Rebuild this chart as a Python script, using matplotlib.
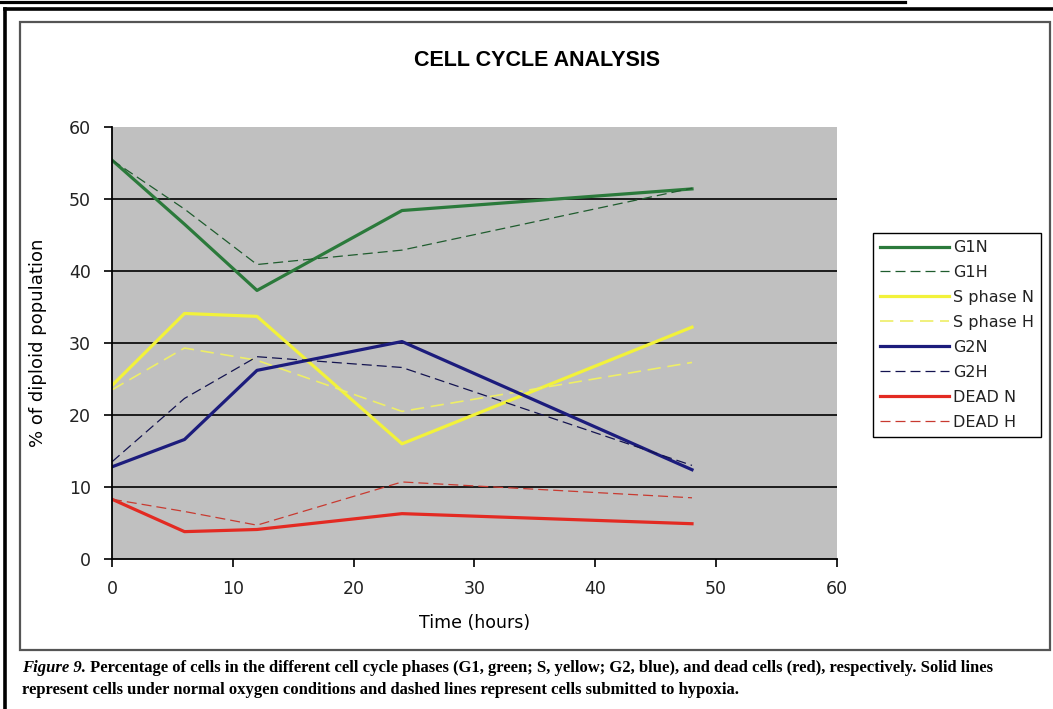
import matplotlib
matplotlib.use("Agg")
import matplotlib.pyplot as plt
from matplotlib.lines import Line2D
from matplotlib.patches import Rectangle

# time points (hours)
hours = [0, 6, 12, 24, 48]

g1_n = [55.4, 46.5, 37.3, 48.4, 51.4]
g1_h = [55.4, 48.6, 40.9, 42.9, 51.5]
s_n = [24.1, 34.1, 33.7, 16.0, 32.2]
s_h = [23.5, 29.3, 27.6, 20.5, 27.3]
g2_n = [12.8, 16.6, 26.2, 30.2, 12.4]
g2_h = [13.5, 22.3, 28.1, 26.6, 13.0]
dead_n = [8.3, 3.8, 4.1, 6.3, 4.9]
dead_h = [8.3, 6.6, 4.7, 10.7, 8.5]

labels = ["G1N", "G1H", "S phase N", "S phase H", "G2N", "G2H", "DEAD N", "DEAD H"]
grid_vals = [10, 20, 30, 40, 50]

W, H = 1053, 709
fig = plt.figure(figsize=(W / 100, H / 100), dpi=100)
fig.patch.set_facecolor("white")

def fx(px):
    return px / W

def fy(py):
    return 1 - py / H

# page decorations: top rule, outer frame and chart frame
fig.add_artist(Line2D([0, fx(905)], [fy(1.5), fy(1.5)], color="black", lw=2.3))
fig.add_artist(Line2D([fx(5), fx(5)], [fy(9), 0], color="black", lw=2.6))
fig.add_artist(Line2D([fx(5), 1], [fy(9), fy(9)], color="black", lw=2.6))
fig.add_artist(Rectangle((fx(19.5), fy(650)), fx(1050) - fx(19.5), fy(22) - fy(650),
                         transform=fig.transFigure, fill=False, edgecolor="#555555", lw=1.6))

ax = fig.add_axes([fx(112), fy(559), fx(837) - fx(112), fy(127) - fy(559)])
ax.set_facecolor("#c0c0c0")

green = "#2b7a3b"
yellow = "#f2f23a"
navy = "#1c1c7c"
red = "#e32a22"

solid_w = 2.3
dash_w = 0.9
dash = (0, (8, 4))

for g in grid_vals:
    ax.axhline(g, color="black", lw=1.2, zorder=1)

ax.plot(hours, g1_n, color=green, lw=solid_w, label=labels[0])
ax.plot(hours, g1_h, color="#1f5c2e", lw=dash_w, linestyle=dash, label=labels[1])
ax.plot(hours, s_n, color=yellow, lw=solid_w, label=labels[2])
ax.plot(hours, s_h, color="#eeee66", lw=dash_w + 0.3, linestyle=dash, label=labels[3])
ax.plot(hours, g2_n, color=navy, lw=solid_w, label=labels[4])
ax.plot(hours, g2_h, color="#141450", lw=dash_w, linestyle=dash, label=labels[5])
ax.plot(hours, dead_n, color=red, lw=solid_w, label=labels[6])
ax.plot(hours, dead_h, color="#c83a30", lw=dash_w, linestyle=dash, label=labels[7])

ax.set_xlim(0, 60)
ax.set_ylim(0, 60)
ax.set_xticks(range(0, 61, 10))
ax.set_yticks(range(0, 61, 10))
for s in ["top", "right"]:
    ax.spines[s].set_visible(False)
ax.spines["left"].set_linewidth(1.3)
ax.spines["bottom"].set_linewidth(1.3)
ax.tick_params(direction="out", length=6, width=1.2, labelsize=12.5, pad=9,
               colors="black", labelcolor="#222222")

ax.set_xlabel("Time (hours)", fontsize=12.5, labelpad=12)
ax.set_ylabel("% of diploid population", fontsize=13, labelpad=16)

fig.text(fx(537), fy(61), "CELL CYCLE ANALYSIS", ha="center", va="center",
         fontsize=15.5, fontweight="bold", family="Liberation Sans")

leg = ax.legend(loc="upper left", bbox_to_anchor=(fx(873), fy(233)),
                bbox_transform=fig.transFigure, fontsize=11.5, frameon=True,
                fancybox=False, edgecolor="black", framealpha=1,
                handlelength=4.3, handletextpad=0.25, labelspacing=0.62,
                borderpad=0.45, borderaxespad=0)
leg.get_frame().set_linewidth(1.0)
for t in leg.get_texts():
    t.set_color("#222222")

cap_font = dict(family="Liberation Serif", fontweight="bold", fontsize=12)
t1 = fig.text(fx(22), fy(668), "Figure 9.", ha="left", va="center",
              style="italic", **cap_font)
ax.annotate(" Percentage of cells in the different cell cycle phases (G1, green; S, yellow; "
            "G2, blue), and dead cells (red), respectively. Solid lines",
            xy=(1, 0.5), xycoords=t1, ha="left", va="center",
            annotation_clip=False, **cap_font)
fig.text(fx(22), fy(690), "represent cells under normal oxygen conditions and dashed lines "
         "represent cells submitted to hypoxia.", ha="left", va="center", **cap_font)

fig.savefig("out.png", dpi=100)
